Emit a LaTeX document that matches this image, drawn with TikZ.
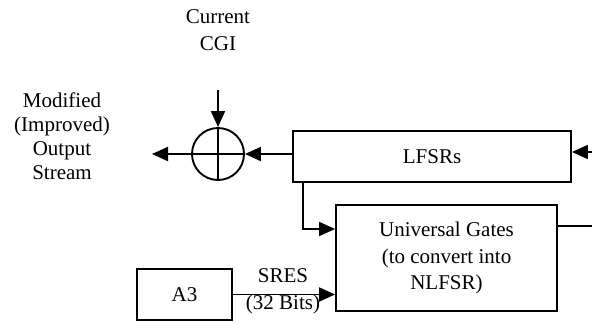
\documentclass[tikz,border=0pt]{standalone}
\usepackage{fontspec}
\setmainfont{Liberation Serif}
\usetikzlibrary{arrows.meta,calc}
\begin{document}
\begin{tikzpicture}[x=1pt,y=1pt,
  every node/.style={font=\fontsize{21}{26.5}\selectfont, inner sep=0pt},
  box/.style={draw, line width=1.9pt, align=center},
  lbl/.style={align=center},
  ln/.style={line width=1.9pt},
  arr/.style={line width=1.9pt, -{Triangle[length=16pt,width=14pt]}}]
\useasboundingbox (0,0) rectangle (592,-322);
% nodes
\node[lbl] (cgi) at (218,-30) {Current\\CGI};
\node[lbl, font=\fontsize{21}{24}\selectfont] (out) at (62,-136) {Modified\\(Improved)\\Output\\Stream};
\node[draw, circle, line width=1.9pt, minimum size=52pt] (xor) at (218,-154) {};
\node[box, minimum width=278pt, minimum height=51pt] (lfsr) at (432,-156.5) {LFSRs};
\node[box, minimum width=221pt, minimum height=106pt] (ug) at (446.5,-258) {Universal Gates\\(to convert into\\NLFSR)};
\node[box, minimum width=95pt, minimum height=51pt] (a3) at (184.5,-294.5) {A3};
\node[lbl] (sres) at (283,-276) {SRES};
\node[lbl] (bits) at (283,-304) {(32 Bits)};
% coordinates
\coordinate (cgiin) at (218,-90);
\coordinate (outtip) at (152,-154);
\coordinate (rin) at (592,-152);
\coordinate (rout) at (592,-226);
\coordinate (c1) at (303,-229);
% plus in xor
\draw[ln] (xor.north) -- (xor.south);
\draw[ln] (xor.west) -- (xor.east);
% connectors
\draw[arr] (cgiin) -- (xor.north);
\draw[arr] (lfsr.west |- xor.east) -- (xor.east);
\draw[arr] (xor.west) -- (outtip);
\draw[arr] (rin) -- (lfsr.east |- rin);
\draw[ln] (ug.east |- rout) -- (rout);
\draw[arr] (c1 |- lfsr.south) -- (c1) -- (c1 -| ug.west);
\draw[arr] (a3.east) -- (a3.east -| ug.west);
\end{tikzpicture}
\end{document}
